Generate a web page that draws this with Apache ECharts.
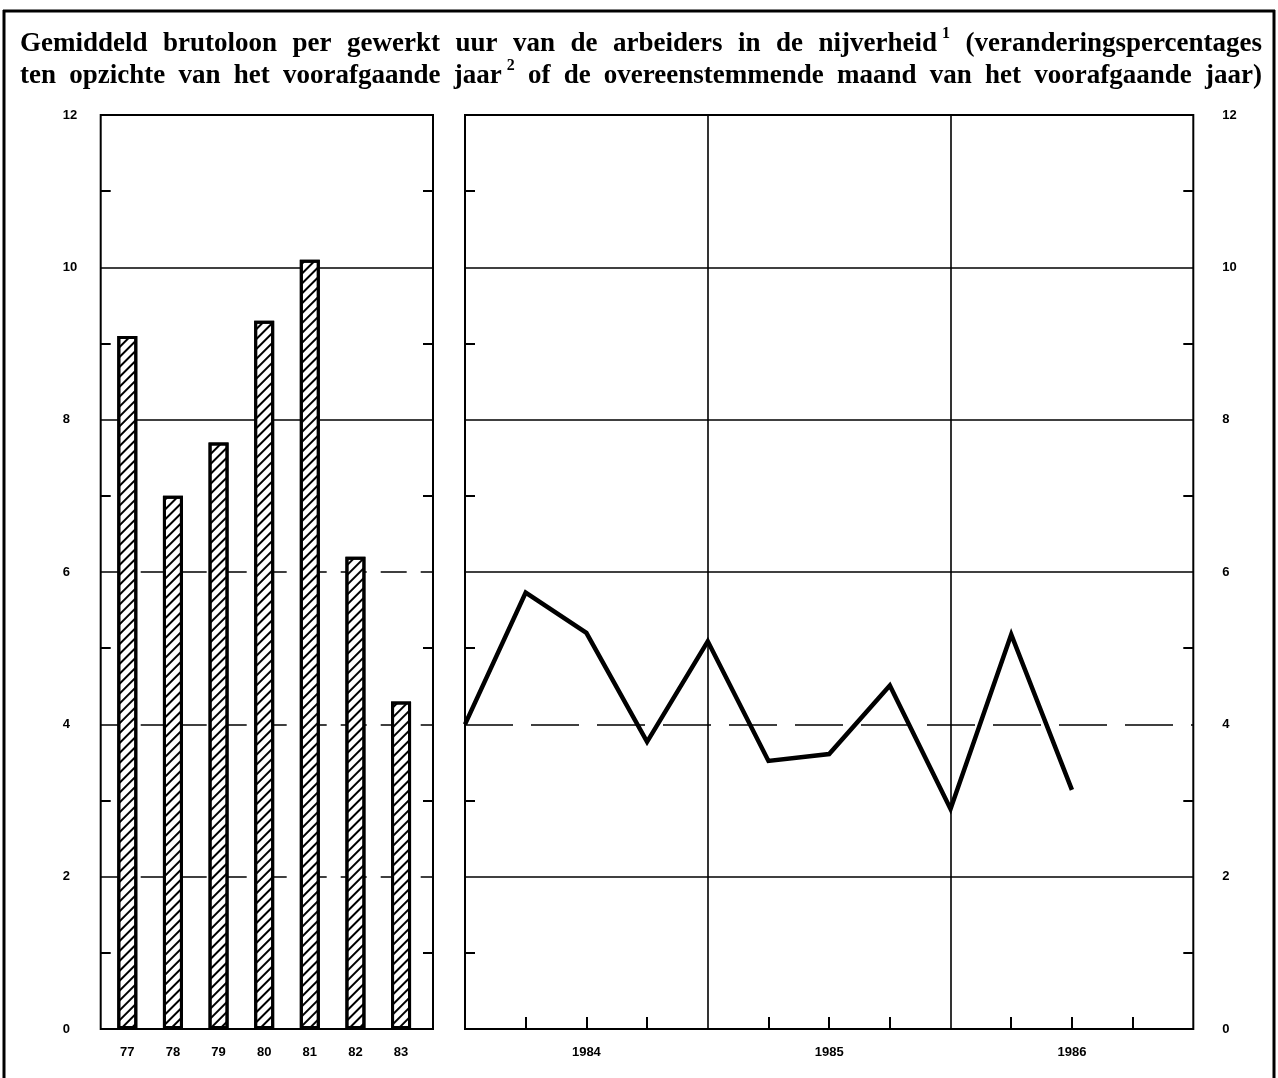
<!DOCTYPE html>
<html><head><meta charset="utf-8">
<script src="https://cdn.jsdelivr.net/npm/echarts@6/dist/echarts.min.js"></script>
<style>html,body{margin:0;padding:0;background:#fff}#c{width:1278px;height:1078px}</style>
</head><body><div id="c"></div>
<script>
// ---- data ----
const barYears = [77, 78, 79, 80, 81, 82, 83];
const barValues = [9.1, 7.0, 7.7, 9.3, 10.1, 6.2, 4.3];
const quarterPos = [0, 1, 2, 3, 4, 5, 6, 7, 8, 9, 10];
const quarterValues = [4.0, 5.73, 5.2, 3.77, 5.09, 3.52, 3.61, 4.51, 2.89, 5.18, 3.14];
const yearLabelPos = [2, 6, 10];
const yearLabels = ['1984', '1985', '1986'];
const quarterTickPos = [1, 2, 3, 5, 6, 7, 9, 10, 11];
const yearBoundaryPos = [4, 8];
const oddTicks = [1, 3, 5, 7, 9, 11];
const titleLine1 = ['Gemiddeld','brutoloon','per','gewerkt','uur','van','de','arbeiders','in','de','nijverheid^1','(veranderingspercentages'];
const titleLine2 = ['ten','opzichte','van','het','voorafgaande','jaar^2','of','de','overeenstemmende','maand','van','het','voorafgaande','jaar)'];

// ---- layout ----
const GT = 115, GH = 914;
const L = {left: 100.7, width: 332.3};
const R = {left: 465, width: 728.3};
const labelFont = {fontFamily: '"Liberation Sans", Arial, sans-serif', fontSize: 13, fontWeight: 'bold', color: '#000'};

function yAx(grid, pos, showLabel, margin) {
  return {
    type: 'value', gridIndex: grid, position: pos, min: 0, max: 12, interval: 2,
    axisLine: {show: false},
    splitLine: {show: false},
    axisTick: {show: true, inside: true, length: 10, customValues: oddTicks, lineStyle: {color: '#000', width: 2}},
    axisLabel: Object.assign({show: showLabel, margin: margin, align: 'left'}, labelFont)
  };
}

// ---- title (justified words) ----
const TF = 'bold 27px "Liberation Serif", "Times New Roman", serif';
const SF = 'bold 16px "Liberation Serif", "Times New Roman", serif';
const mctx = document.createElement('canvas').getContext('2d');
function meas(t, f) { mctx.font = f; return mctx.measureText(t).width; }
function buildLine(words, cy, x0, x1) {
  const parts = words.map(w => {
    const [m, s] = w.split('^');
    const mw = meas(m, TF);
    const sw = s ? meas(s, SF) + 5 : 0;
    return {m, s, mw, w: mw + sw};
  });
  const total = parts.reduce((a, p) => a + p.w, 0);
  const gap = (x1 - x0 - total) / (parts.length - 1);
  const els = [];
  let x = x0;
  parts.forEach(p => {
    els.push({type: 'text', x: x, y: cy, style: {text: p.m, font: TF, fill: '#000', verticalAlign: 'middle', align: 'left'}});
    if (p.s) els.push({type: 'text', x: x + p.mw + 5, y: cy - 10, style: {text: p.s, font: SF, fill: '#000', verticalAlign: 'middle', align: 'left'}});
    x += p.w + gap;
  });
  return els;
}
const graphics = [].concat(
  buildLine(titleLine1, 44, 20, 1262),
  buildLine(titleLine2, 76, 20, 1262),
  [
    {type: 'line', shape: {x1: 3, y1: 11, x2: 1275, y2: 11}, style: {stroke: '#000', lineWidth: 3}},
    {type: 'line', shape: {x1: 4, y1: 10, x2: 4, y2: 1078}, style: {stroke: '#000', lineWidth: 3}},
    {type: 'line', shape: {x1: 1274, y1: 10, x2: 1274, y2: 1078}, style: {stroke: '#000', lineWidth: 3}}
  ]
);

const solid = {color: '#000', width: 1.6, type: 'solid'};
const dashL = {color: '#000', width: 1.6, type: [26, 14]};
const dashR = {color: '#000', width: 1.6, type: [48, 18]};

const option = {
  animation: false,
  backgroundColor: '#fff',
  graphic: graphics,
  grid: [
    {left: L.left, top: GT, width: L.width, height: GH, show: true, borderColor: '#000', borderWidth: 2, backgroundColor: 'transparent'},
    {left: R.left, top: GT, width: R.width, height: GH, show: true, borderColor: '#000', borderWidth: 2, backgroundColor: 'transparent'}
  ],
  xAxis: [
    {type: 'value', gridIndex: 0, min: 76.417, max: 83.70,
     axisLine: {show: false}, splitLine: {show: false}, axisTick: {show: false},
     axisLabel: Object.assign({customValues: barYears, margin: 17}, labelFont)},
    {type: 'value', gridIndex: 1, min: 0, max: 12,
     axisLine: {show: false}, splitLine: {show: false},
     axisTick: {show: true, inside: true, length: 12, customValues: quarterTickPos, lineStyle: {color: '#000', width: 2}},
     axisLabel: Object.assign({customValues: yearLabelPos, margin: 17,
       formatter: v => yearLabels[yearLabelPos.indexOf(v)] || ''}, labelFont)}
  ],
  yAxis: [
    yAx(0, 'left', true, 38),
    yAx(0, 'right', false, 8),
    yAx(1, 'left', false, 8),
    yAx(1, 'right', true, 29)
  ],
  series: [
    {type: 'line', xAxisIndex: 0, yAxisIndex: 0, z: 1, data: barYears.map((y, i) => [y, barValues[i]]),
     lineStyle: {opacity: 0}, symbol: 'none', silent: true,
     markLine: {silent: true, symbol: 'none', label: {show: false}, animation: false,
       data: [
         {yAxis: 2, lineStyle: dashL}, {yAxis: 4, lineStyle: dashL}, {yAxis: 6, lineStyle: dashL},
         {yAxis: 8, lineStyle: solid}, {yAxis: 10, lineStyle: solid}
       ]}},
    {type: 'bar', xAxisIndex: 0, yAxisIndex: 0, z: 5, barWidth: 20,
     data: barYears.map((y, i) => [y, barValues[i]]),
     itemStyle: {color: '#fff', borderColor: '#000', borderWidth: 3,
       decal: {symbol: 'rect', symbolSize: 1, color: '#000', dashArrayX: [1, 0], dashArrayY: [1.4, 4.6], rotation: -Math.PI / 4}}},
    {type: 'line', xAxisIndex: 1, yAxisIndex: 2, z: 1, data: quarterPos.map((x, i) => [x, quarterValues[i]]),
     lineStyle: {opacity: 0}, symbol: 'none', silent: true,
     markLine: {silent: true, symbol: 'none', label: {show: false}, animation: false,
       data: [
         {yAxis: 2, lineStyle: solid}, {yAxis: 4, lineStyle: dashR}, {yAxis: 6, lineStyle: solid},
         {yAxis: 8, lineStyle: solid}, {yAxis: 10, lineStyle: solid},
         {xAxis: yearBoundaryPos[0], lineStyle: solid}, {xAxis: yearBoundaryPos[1], lineStyle: solid}
       ]}},
    {type: 'line', xAxisIndex: 1, yAxisIndex: 2, z: 5, symbol: 'none',
     data: quarterPos.map((x, i) => [x, quarterValues[i]]),
     lineStyle: {color: '#000', width: 4.5, join: 'miter'}}
  ]
};
const chart = echarts.init(document.getElementById('c'), null, {renderer: 'canvas'});
chart.setOption(option);
</script>
</body></html>
